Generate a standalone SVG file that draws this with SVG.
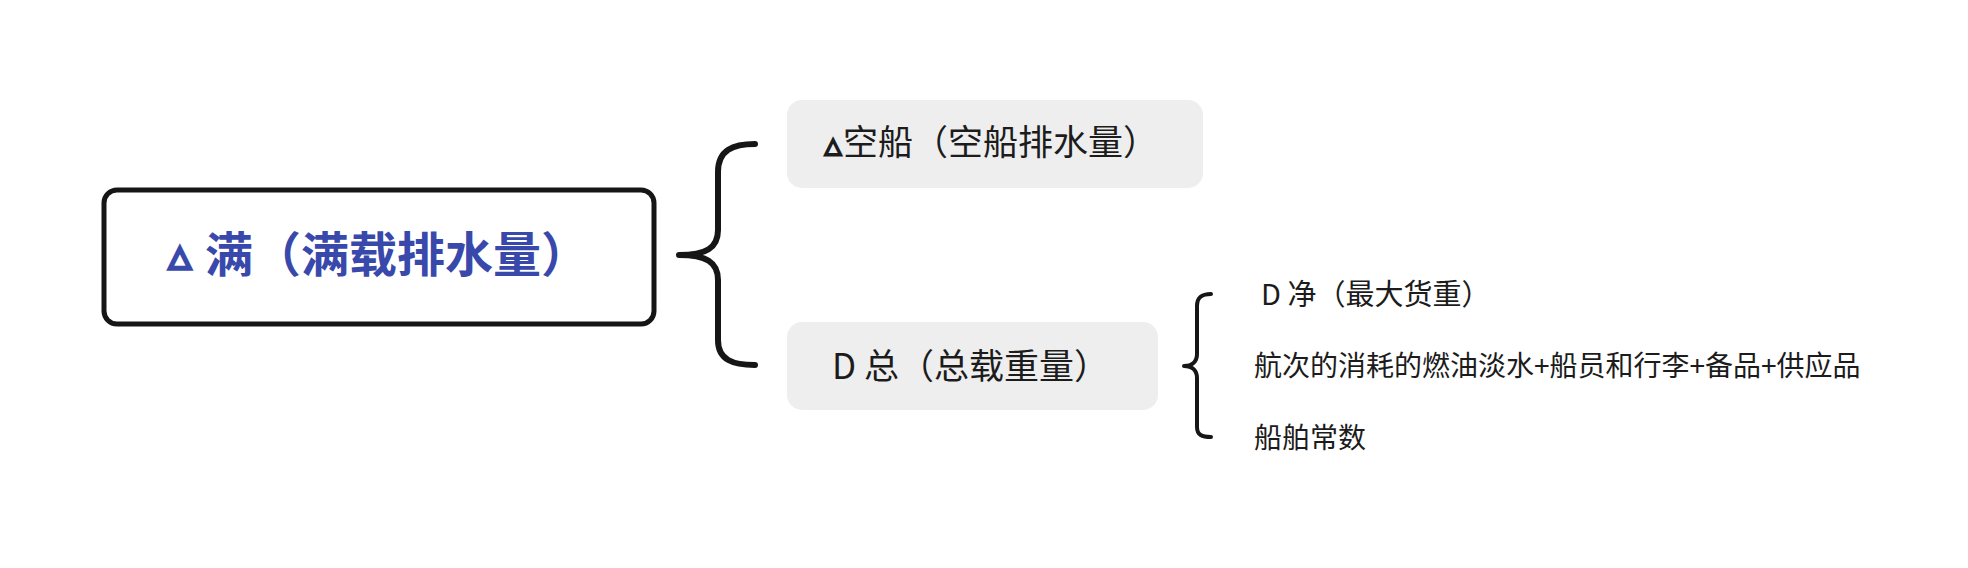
<svg xmlns="http://www.w3.org/2000/svg" width="1968" height="568" viewBox="0 0 1968 568">
<style>
.cjk{font-family:"Noto Sans CJK SC","Noto Sans",sans-serif;}
.sym{font-family:"DejaVu Sans",sans-serif;font-weight:normal;stroke-linejoin:miter;}
.dark{fill:#1c1c1c;}
.sub{fill:#eeeeee;}
.brace{fill:none;stroke:#161616;stroke-linecap:round;stroke-linejoin:round;}
</style>
<rect width="1968" height="568" fill="#ffffff"/>
<g id="connectors">
<path class="brace" stroke-width="6" d="M755,144 C733,144 718,150 718,172 L718,230 C718,248 706,255 679,255 C706,255 718,262 718,280 L718,340 C718,360 733,365 755,365"/>
<path class="brace" stroke-width="4" d="M1211,294 C1202,294 1197,297 1197,306 L1197,354 C1197,361 1193,366 1184,366 C1193,366 1197,371 1197,378 L1197,427 C1197,435 1202,437 1211,437"/>
</g>
<g id="node-main">
<rect x="104" y="190" width="550" height="134" rx="13" fill="#ffffff" stroke="#161616" stroke-width="5"/>
<text y="272" font-weight="bold" fill="#3949ab"><tspan class="sym" x="168" y="270" font-size="47" stroke="#3949ab" stroke-width="2.5">▵</tspan><tspan class="cjk" x="205" y="272" font-size="48">满（满载排水量）</tspan></text>
</g>
<g id="node-kongchuan">
<rect class="sub" x="787" y="100" width="416" height="88" rx="15"/>
<text y="155" class="dark"><tspan class="sym" x="824" y="156" font-size="36" stroke="#1c1c1c" stroke-width="1.5">▵</tspan><tspan class="cjk" x="843" y="155" font-size="35">空船（空船排水量）</tspan></text>
</g>
<g id="node-zong">
<rect class="sub" x="787" y="322" width="371" height="88" rx="15"/>
<text class="cjk dark" x="832" y="379" font-size="35">D 总（总载重量）</text>
</g>
<g id="node-jing">
<text class="cjk dark" x="1261" y="305" font-size="29">D 净（最大货重）</text>
</g>
<g id="node-xiaohao">
<text class="cjk dark" x="1254" y="376" font-size="28">航次的消耗的燃油淡水+船员和行李+备品+供应品</text>
</g>
<g id="node-changshu">
<text class="cjk dark" x="1254" y="448" font-size="28">船舶常数</text>
</g>
</svg>
